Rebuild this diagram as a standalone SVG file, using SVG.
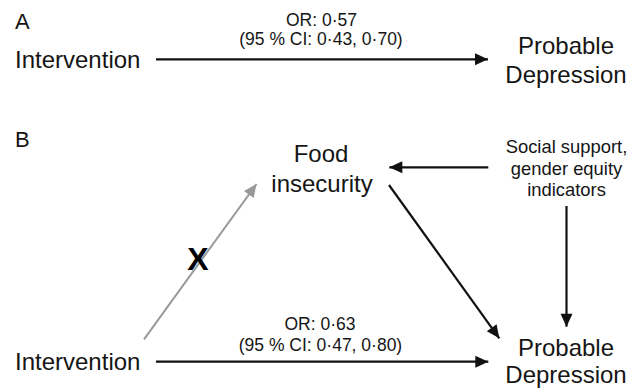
<svg xmlns="http://www.w3.org/2000/svg" width="640" height="391" viewBox="0 0 640 391">
<style>
text{font-family:"Liberation Sans",Arial,sans-serif;fill:#151515}
.lbl{font-size:24px}
.pan{font-size:22px}
.or{font-size:17.5px;text-anchor:middle}
.sm{font-size:18.4px;text-anchor:middle}
.mid{text-anchor:middle}
.edge{stroke:#111;stroke-width:2.2;fill:none}
.gray{stroke:#999;stroke-width:2;fill:none}
</style>
<defs>
<marker id="ah" markerUnits="userSpaceOnUse" markerWidth="14" markerHeight="13" refX="13" refY="6" orient="auto" overflow="visible">
<path d="M0,0 L13,6 L0,12 z" fill="#111"/>
</marker>
<marker id="ahg" markerUnits="userSpaceOnUse" markerWidth="14" markerHeight="13" refX="13" refY="6" orient="auto" overflow="visible">
<path d="M0,0 L13,6 L0,12 z" fill="#999"/>
</marker>
</defs>
<rect width="640" height="391" fill="#fff"/>
<text class="pan" x="15" y="29">A</text>
<text class="pan" x="15" y="147">B</text>
<g id="a-intervention"><text class="lbl" x="15" y="68">Intervention</text></g>
<g id="a-depression"><text class="lbl mid" x="566" y="53.5">Probable</text><text class="lbl mid" x="566" y="83.3">Depression</text></g>
<g id="b-food"><text class="lbl mid" x="321" y="161.7">Food</text><text class="lbl mid" x="322" y="191.7">insecurity</text></g>
<g id="b-social"><text class="sm" x="566.5" y="152.7">Social support,</text><text class="sm" x="566.5" y="174.5">gender equity</text><text class="sm" x="566.5" y="196">indicators</text></g>
<g id="b-intervention"><text class="lbl" x="15" y="370">Intervention</text></g>
<g id="b-depression"><text class="lbl mid" x="566" y="356">Probable</text><text class="lbl mid" x="566" y="383.3">Depression</text></g>
<g id="connectors">
<line class="edge" x1="156" y1="59.3" x2="488" y2="59.3" marker-end="url(#ah)"/>
<text class="or" x="321.5" y="26">OR: 0·57</text>
<text class="or" x="321" y="45">(95 % CI: 0·43, 0·70)</text>
<line class="gray" x1="144" y1="339.3" x2="256.5" y2="184" marker-end="url(#ahg)"/>
<text x="198" y="270" style="font-size:32px;font-weight:bold;text-anchor:middle;fill:#000">X</text>
<line class="edge" x1="488.3" y1="167.3" x2="389.3" y2="167.3" marker-end="url(#ah)"/>
<line class="edge" x1="389" y1="185" x2="499.3" y2="338.3" marker-end="url(#ah)"/>
<line class="edge" x1="566.5" y1="206" x2="566.5" y2="326.7" marker-end="url(#ah)"/>
<line class="edge" x1="156" y1="361.7" x2="488.3" y2="361.7" marker-end="url(#ah)"/>
<text class="or" x="320" y="330">OR: 0·63</text>
<text class="or" x="320.5" y="351">(95 % CI: 0·47, 0·80)</text>
</g>
</svg>
